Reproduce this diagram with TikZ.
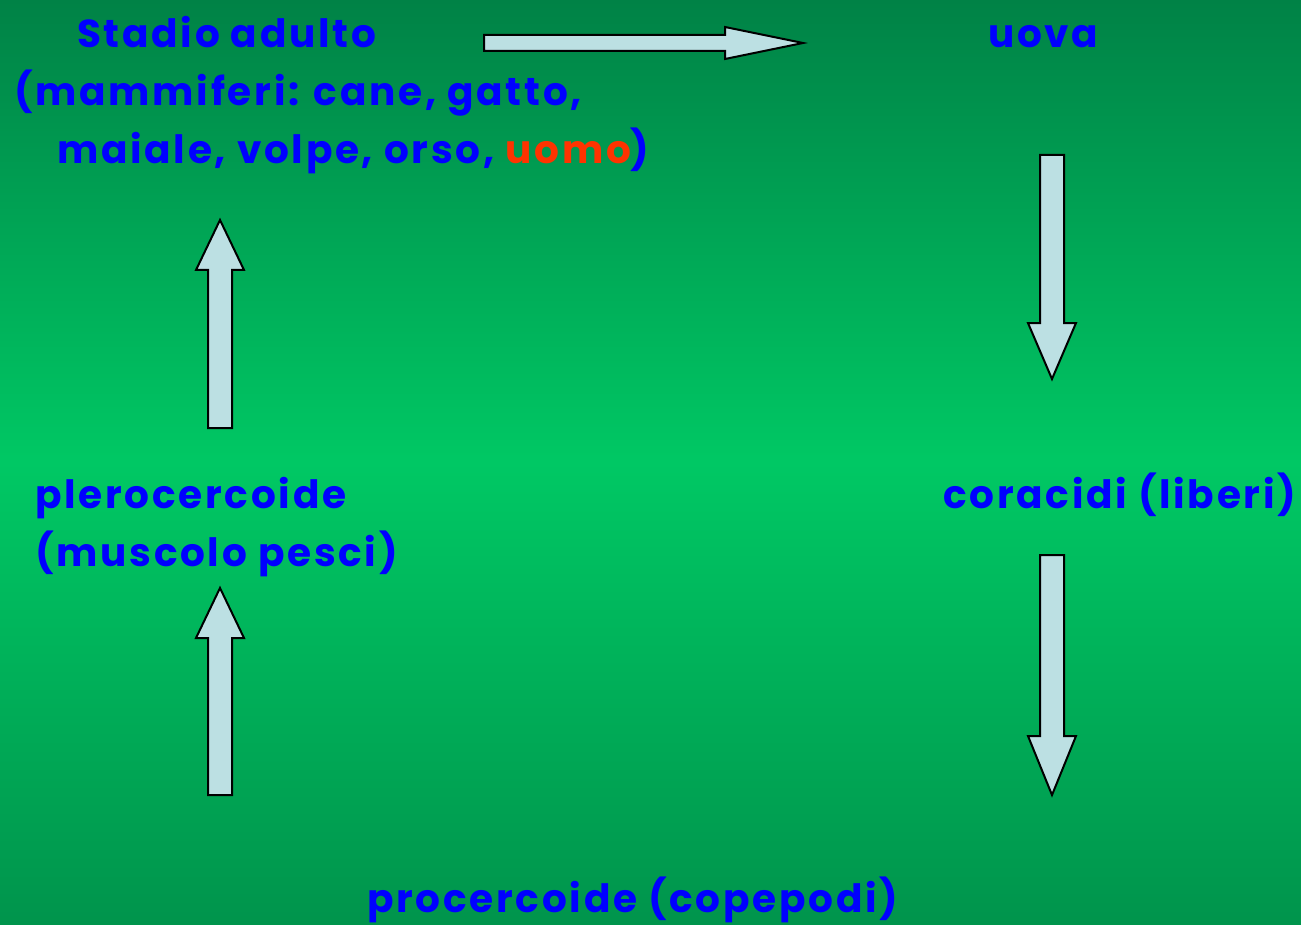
\documentclass[tikz,border=0pt]{standalone}
\usepackage{fontspec}
\setmainfont{Poppins}[LetterSpace=7]
\definecolor{bgtop}{RGB}{0,130,70}
\definecolor{bgmid}{RGB}{0,200,100}
\definecolor{bgbot}{RGB}{0,148,76}
\definecolor{txtblue}{RGB}{0,0,255}
\definecolor{txtred}{RGB}{255,51,0}
\definecolor{arrfill}{RGB}{188,224,227}
\begin{document}
\begin{tikzpicture}[x=1pt,y=-1pt,
  lbl/.style={inner sep=0pt,text=txtblue,font=\fontsize{39}{46}\selectfont\bfseries,anchor=base west},
  blk/.style={draw=black,line width=2pt,fill=arrfill,line join=miter}]
\shade[top color=bgtop,bottom color=bgbot,middle color=bgmid] (0,0) rectangle (1301,925);
\useasboundingbox (0,0) rectangle (1301,925);
% texts
\node[lbl] (adult1) at (77,48) {Stadio adulto};
\node[lbl] (adult2) at (14,106) {(mammiferi: cane, gatto,};
\node[lbl] (adult3) at (57,164) {maiale, volpe, orso, \textcolor{txtred}{uomo})};
\node[lbl] (uova) at (988,48) {uova};
\node[lbl] (cora) at (943,508) {coracidi (liberi)};
\node[lbl] (pler1) at (35,508) {plerocercoide};
\node[lbl] (pler2) at (35,566) {(muscolo pesci)};
\node[lbl] (proc) at (367,912) {procercoide (copepodi)};
% block arrows
\draw[blk] (484,35) -- (725,35) -- (725,27) -- (803,43) -- (725,59) -- (725,51) -- (484,51) -- cycle;
\draw[blk] (208,428) -- (208,270) -- (196,270) -- (220,220) -- (244,270) -- (232,270) -- (232,428) -- cycle;
\draw[blk] (208,795) -- (208,638) -- (196,638) -- (220,588) -- (244,638) -- (232,638) -- (232,795) -- cycle;
\draw[blk] (1040,155) -- (1040,323) -- (1028,323) -- (1052,379) -- (1076,323) -- (1064,323) -- (1064,155) -- cycle;
\draw[blk] (1040,555) -- (1040,736) -- (1028,736) -- (1052,795) -- (1076,736) -- (1064,736) -- (1064,555) -- cycle;
\end{tikzpicture}
\end{document}
